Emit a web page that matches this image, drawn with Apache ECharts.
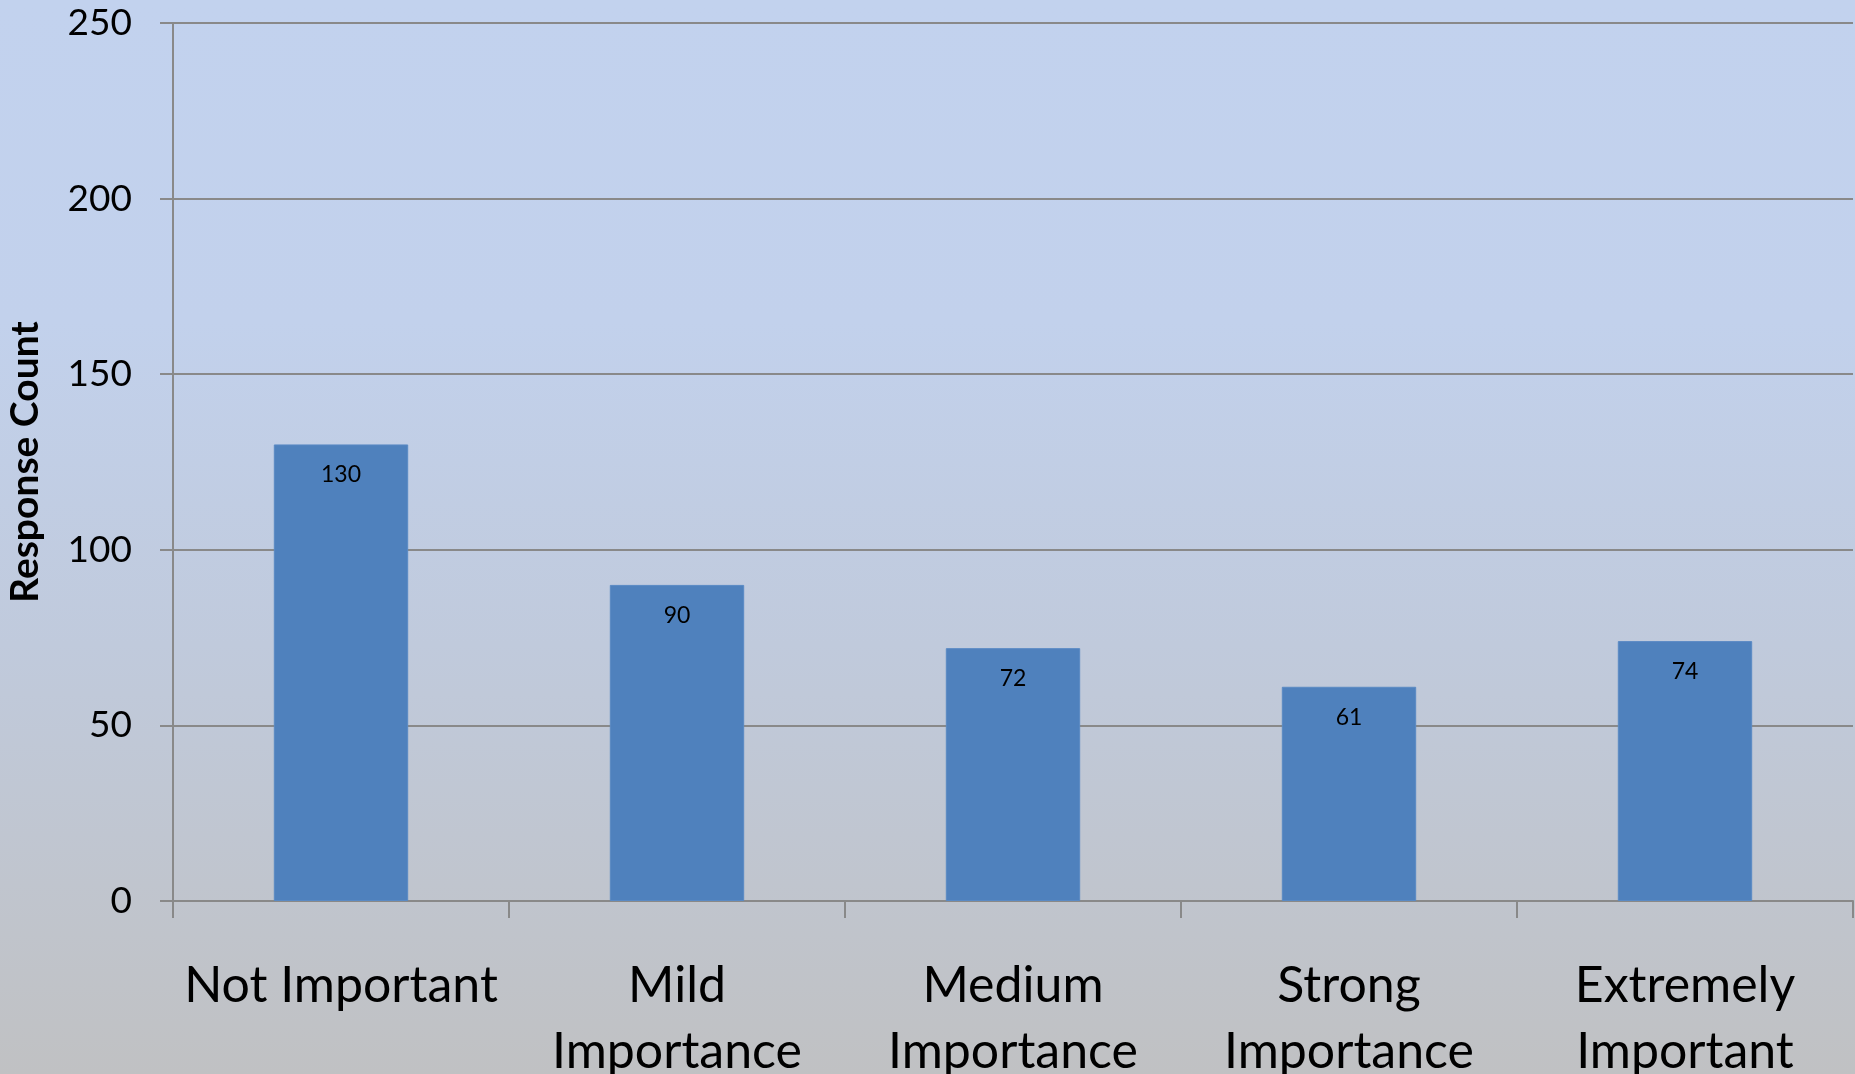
<!DOCTYPE html>
<html>
<head>
<meta charset="utf-8">
<script src="https://cdn.jsdelivr.net/npm/echarts@6/dist/echarts.min.js"></script>
<style>
html,body{margin:0;padding:0;width:1855px;height:1074px;overflow:hidden;}
#chart{width:1855px;height:1074px;}
</style>
</head>
<body>
<div id="chart"></div>
<script>
const categories = ['Not Important', 'Mild\nImportance', 'Medium\nImportance', 'Strong\nImportance', 'Extremely\nImportant'];
const responseCounts = [130, 90, 72, 61, 74];
const yAxisTitle = 'Response Count';
const yMin = 0, yMax = 250, yInterval = 50;

const axisGray = '#898989';
const chart = echarts.init(document.getElementById('chart'), null, {renderer: 'canvas'});
chart.setOption({
  animation: false,
  backgroundColor: new echarts.graphic.LinearGradient(0, 0, 0, 1, [
    {offset: 0, color: '#C2D2EE'},
    {offset: 0.3, color: '#C2D1EC'},
    {offset: 0.6, color: '#C0CADC'},
    {offset: 1, color: '#C0C1C3'}
  ]),
  textStyle: {fontFamily: 'Lato'},
  grid: {left: 173, right: 2, top: 23, bottom: 173, containLabel: false, outerBoundsMode: 'none'},
  xAxis: {
    type: 'category',
    data: categories,
    axisLine: {show: true, lineStyle: {color: axisGray, width: 2}},
    axisTick: {show: true, length: 17, alignWithLabel: false, lineStyle: {color: axisGray, width: 2}},
    axisLabel: {interval: 0, fontSize: 50, lineHeight: 66, color: '#000', fontFamily: 'Lato', margin: 52}
  },
  yAxis: {
    type: 'value',
    min: yMin, max: yMax, interval: yInterval,
    name: yAxisTitle,
    nameLocation: 'middle',
    nameRotate: 90,
    nameGap: 128,
    nameTextStyle: {fontSize: 39, fontWeight: 'bold', color: '#000', fontFamily: 'Lato'},
    axisLine: {show: true, lineStyle: {color: axisGray, width: 2}},
    axisTick: {show: true, length: 13, lineStyle: {color: axisGray, width: 2}},
    splitLine: {show: true, lineStyle: {color: axisGray, width: 2}},
    axisLabel: {fontSize: 37, color: '#000', fontFamily: 'Lato', margin: 41}
  },
  series: [{
    type: 'bar',
    data: responseCounts,
    barWidth: '40%',
    itemStyle: {color: '#4F81BD', borderColor: '#5A8AC4', borderWidth: 1},
    label: {show: true, position: 'insideTop', distance: 19, fontSize: 23, color: '#000', fontFamily: 'Lato'}
  }]
});
</script>
</body>
</html>
